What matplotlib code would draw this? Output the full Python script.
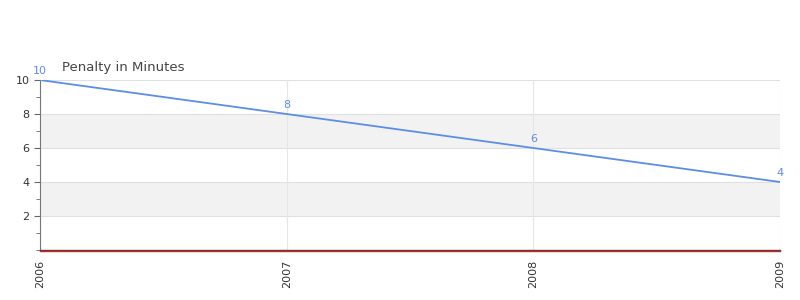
import matplotlib
matplotlib.use("Agg")
import matplotlib.pyplot as plt
from matplotlib.ticker import MultipleLocator
import matplotlib.transforms as mtransforms

years = [2006, 2007, 2008, 2009]
penalty = [10, 8, 6, 4]
year_labels = ["2006", "2007", "2008", "2009"]

line_col = "#5b8ee6"

fig = plt.figure(figsize=(8, 3), dpi=100)
ax = fig.add_axes([0.05, 0.1667, 0.925, 0.5666])

# alternating bands
for lo in (2, 6):
    ax.axhspan(lo, lo + 2, color="#f2f2f2", zorder=0, lw=0)
for y in (2, 4, 6, 8, 10):
    ax.axhline(y, color="#e0e0e0", lw=0.8, zorder=1)
for x in years:
    ax.axvline(x, color="#e6e6e6", lw=0.8, zorder=1)

ax.plot(years, penalty, color=line_col, lw=1.3, zorder=3)
for x, v in zip(years, penalty):
    ax.annotate(str(v), (x, v), xytext=(0, 3), textcoords="offset points",
                ha="center", va="bottom", fontsize=8, color=line_col)

# red zero line just under the dark axis line
shift = mtransforms.offset_copy(ax.transData, fig=fig, x=0, y=-1, units="dots")
ax.plot([2006, 2009], [0, 0], color="#d42020", lw=1, transform=shift,
        clip_on=False, zorder=6)

ax.set_xlim(2006, 2009)
ax.set_ylim(0, 10)
ax.set_xticks(years)
ax.set_xticklabels(year_labels, rotation=90, fontsize=8, color="#333333")
ax.set_yticks([2, 4, 6, 8, 10])
ax.yaxis.set_minor_locator(MultipleLocator(1))
ax.tick_params(axis="y", labelsize=8, colors="#333333", length=4, color="#666666")
ax.tick_params(axis="y", which="minor", length=3, color="#666666")
ax.tick_params(axis="x", length=0, pad=7)

for s in ("top", "right"):
    ax.spines[s].set_visible(False)
ax.spines["left"].set_color("#777777")
ax.spines["bottom"].set_color("#444444")
ax.spines["bottom"].set_linewidth(1.0)

fig.text(62 / 800, 1 - 67 / 300, "Penalty in Minutes", fontsize=9.5,
         color="#444444", va="center", ha="left")

fig.savefig("out.png", dpi=100)
